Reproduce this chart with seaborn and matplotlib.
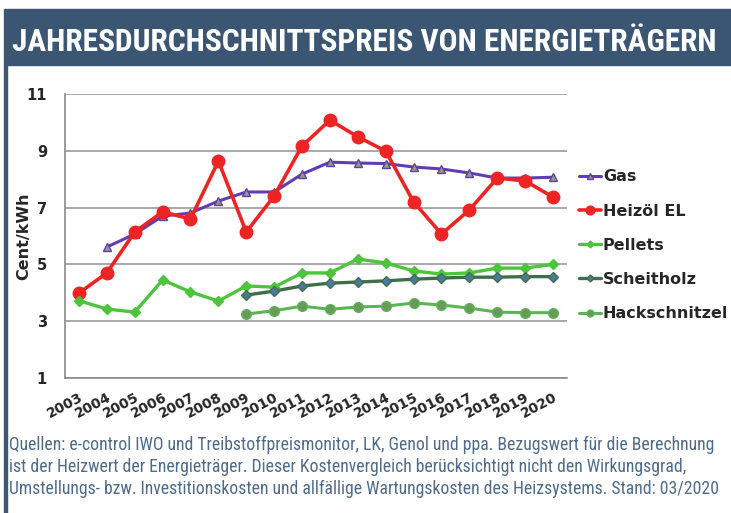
"""Jahresdurchschnittspreis von Energieträgern — line chart."""

import matplotlib
matplotlib.use("Agg")
import matplotlib.pyplot as plt
import matplotlib.transforms as mtransforms
import numpy as np
import pandas as pd
import seaborn as sns
from matplotlib import font_manager

years = list(range(2003, 2021))
gas = [np.nan, 5.61, 6.07, 6.70, 6.81, 7.23, 7.55, 7.55, 8.18, 8.60,
       8.57, 8.55, 8.43, 8.36, 8.22, 8.04, 8.04, 8.07]
heizoel = [3.99, 4.70, 6.14, 6.85, 6.60, 8.64, 6.14, 7.41, 9.17, 10.08,
           9.49, 8.99, 7.20, 6.07, 6.92, 8.04, 7.94, 7.37]
pellets = [3.72, 3.43, 3.32, 4.45, 4.03, 3.71, 4.24, 4.20, 4.70, 4.70,
           5.19, 5.05, 4.77, 4.66, 4.70, 4.87, 4.87, 5.00]
scheitholz = [np.nan] * 6 + [3.92, 4.06, 4.24, 4.34, 4.38, 4.42, 4.48,
                             4.52, 4.55, 4.55, 4.57, 4.57]
hackschnitzel = [np.nan] * 6 + [3.25, 3.37, 3.53, 3.42, 3.50, 3.53, 3.64,
                                3.57, 3.46, 3.32, 3.30, 3.30]

series = {"Gas": gas, "Heizöl EL": heizoel, "Pellets": pellets,
          "Scheitholz": scheitholz, "Hackschnitzel": hackschnitzel}
palette = {"Gas": "#623cb2", "Heizöl EL": "#ee2424", "Pellets": "#4cc43c",
           "Scheitholz": "#3e6e4a", "Hackschnitzel": "#5ab655"}
markers = {"Gas": "^", "Heizöl EL": "o", "Pellets": "D",
           "Scheitholz": "D", "Hackschnitzel": "o"}
mfc = {"Gas": "#8fa06a", "Heizöl EL": "#ee2424", "Pellets": "#4cc43c",
       "Scheitholz": "#4a7a9a", "Hackschnitzel": "#6a9a5a"}
msize = {"Gas": 6, "Heizöl EL": 9, "Pellets": 5, "Scheitholz": 5, "Hackschnitzel": 7}
lwidth = {"Gas": 2.2, "Heizöl EL": 2.6, "Pellets": 2.4, "Scheitholz": 2.4, "Hackschnitzel": 2.2}

title = "JAHRESDURCHSCHNITTSPREIS VON ENERGIETRÄGERN"
footer = ("Quellen: e-control IWO und Treibstoffpreismonitor, LK, Genol und ppa. Bezugswert für die Berechnung\n"
          "ist der Heizwert der Energieträger. Dieser Kostenvergleich berücksichtigt nicht den Wirkungsgrad,\n"
          "Umstellungs- bzw. Investitionskosten und allfällige Wartungskosten des Heizsystems. Stand: 03/2020")


def _narrow_family():
    """Pick a condensed family if one is installed."""
    names = {f.name for f in font_manager.fontManager.ttflist}
    for cand in ["Roboto Condensed", "Open Sans Condensed", "Liberation Sans Narrow",
                 "DejaVu Sans Condensed", "Noto Sans Condensed"]:
        if cand in names:
            return [cand, "DejaVu Sans"]
    for f in font_manager.fontManager.ttflist:
        if "Condensed" in f.name or "Narrow" in f.name:
            return [f.name, "DejaVu Sans"]
    return ["Roboto", "DejaVu Sans"]


def _fit(fig, txt, width_px):
    r = fig.canvas.get_renderer()
    w = txt.get_window_extent(r).width
    txt.set_fontsize(txt.get_fontsize() * width_px / w)


df = pd.DataFrame(series, index=years)
df.index.name = "Jahr"
long = df.reset_index().melt(id_vars="Jahr", var_name="Träger", value_name="Preis").dropna()

sns.set_style("white")
plt.rcParams["font.family"] = ["DejaVu Sans"]
banner_col = "#3b5673"
narrow = _narrow_family()

fig = plt.figure(figsize=(7.31, 5.13), dpi=100)
fig.patches.append(plt.Rectangle((4 / 731, 1 - 65 / 513), 727 / 731, 56 / 513,
                                 transform=fig.transFigure, color=banner_col, zorder=0))
fig.patches.append(plt.Rectangle((4 / 731, 0.0), 3 / 731, 1 - 65 / 513,
                                 transform=fig.transFigure, color=banner_col, zorder=0))
t_title = fig.text(12 / 731, 1 - 42 / 513, title, ha="left", va="center", color="white",
                   fontsize=26, fontweight="bold", family=narrow)
t_foot = fig.text(9 / 731, 1 - 467 / 513, footer, ha="left", va="center", color="#4e6b8a",
                  fontsize=12.5, family=narrow, linespacing=1.25)
_fit(fig, t_title, 708)
_fit(fig, t_foot, 712)

ax = fig.add_axes([65 / 731, 1 - 378 / 513, 502 / 731, 284 / 513])
for name in series:
    sub = long[long["Träger"] == name]
    sns.lineplot(data=sub, x="Jahr", y="Preis", ax=ax, color=palette[name],
                 marker=markers[name], markersize=msize[name], linewidth=lwidth[name],
                 markerfacecolor=mfc[name], markeredgecolor=palette[name],
                 markeredgewidth=1, label=name, legend=False)

ax.set_xlim(2002.5, 2020.5)
ax.set_ylim(1, 11)
ax.set_yticks([1, 3, 5, 7, 9, 11])
ax.yaxis.grid(True, color="#9a9a9a", linewidth=1.2)
ax.set_xticks(years)
ax.set_xticklabels([str(y) for y in years], rotation=28, ha="right",
                   rotation_mode="anchor", fontsize=10, fontweight="bold")
shift = mtransforms.ScaledTranslation(3 / 100, 0, fig.dpi_scale_trans)
for lab in ax.get_xticklabels():
    lab.set_transform(lab.get_transform() + shift)
ax.set_xticks(np.arange(2002.5, 2021, 1), minor=True)
ax.tick_params(axis="x", which="major", length=0, pad=9)
ax.tick_params(axis="x", which="minor", length=4, color="#888888", width=1)
ax.tick_params(axis="y", length=4, color="#888888", labelsize=10.5, width=1, pad=9)
for lab in ax.get_yticklabels():
    lab.set_fontweight("bold")
ax.set_xlabel("")
ax.set_ylabel("Cent/kWh", fontsize=11.5, fontweight="bold")
ax.yaxis.set_label_coords(-0.068, 0.5)
for side in ["top", "right"]:
    ax.spines[side].set_visible(False)
for side in ["left", "bottom"]:
    ax.spines[side].set_color("#8a8a8a")
    ax.spines[side].set_linewidth(1.2)

handles, labels = ax.get_legend_handles_labels()
leg = ax.legend(handles, labels, loc="upper left", bbox_to_anchor=(0.995, 0.785),
                frameon=False, handlelength=1.4, handletextpad=0.1,
                labelspacing=1.2, prop={"weight": "bold", "size": 11.5},
                markerscale=0.7)

fig.savefig("out.png", dpi=100)
